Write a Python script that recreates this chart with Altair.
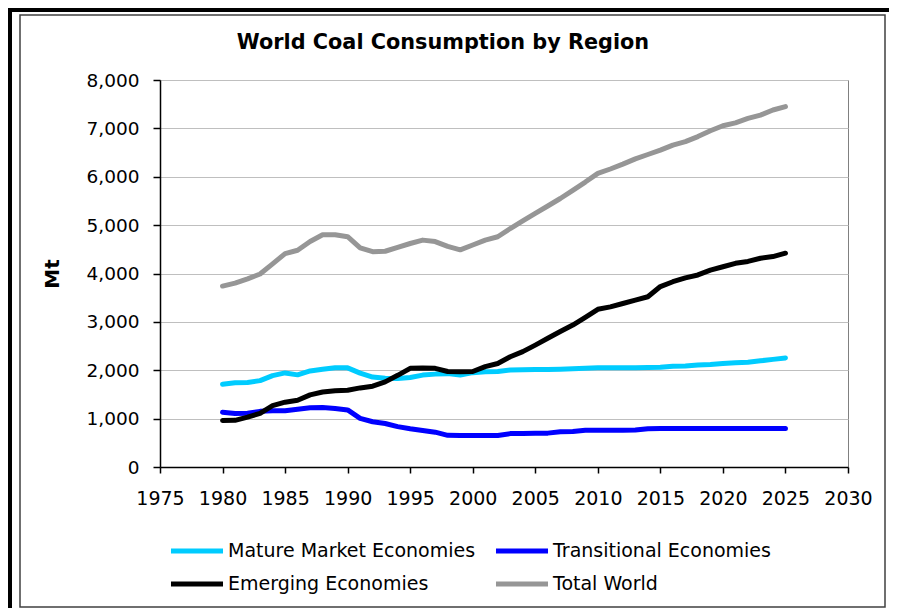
import altair as alt
import pandas as pd

years = list(range(1980, 2026))

mature = [1710, 1740, 1745, 1785, 1890, 1945, 1905, 1985, 2020, 2050,
          2050, 1940, 1860, 1835, 1830, 1850, 1900, 1920, 1930, 1900,
          1950, 1970, 1975, 2005, 2010, 2015, 2015, 2020, 2030, 2040,
          2050, 2050, 2050, 2050, 2055, 2060, 2085, 2090, 2110, 2120,
          2140, 2155, 2165, 2195, 2225, 2255]

transitional = [1130, 1105, 1110, 1150, 1165, 1165, 1195, 1225, 1230, 1210,
                1180, 1005, 935, 900, 835, 790, 755, 720, 655, 650,
                650, 650, 650, 690, 695, 700, 700, 730, 735, 760,
                760, 760, 760, 765, 790, 795, 795, 795, 795, 795,
                795, 795, 795, 795, 795, 795]

emerging = [960, 965, 1030, 1110, 1270, 1340, 1380, 1490, 1550, 1575,
            1585, 1635, 1670, 1760, 1895, 2040, 2045, 2040, 1975, 1970,
            1975, 2075, 2140, 2280, 2385, 2520, 2660, 2800, 2935, 3095,
            3260, 3310, 3380, 3450, 3520, 3730, 3830, 3910, 3970, 4070,
            4140, 4210, 4250, 4315, 4350, 4420]

total = [3740, 3800, 3890, 3990, 4200, 4410, 4480, 4660, 4800, 4800,
         4760, 4530, 4450, 4460, 4540, 4620, 4690, 4660, 4560, 4490,
         4590, 4690, 4760, 4930, 5090, 5245, 5395, 5550, 5720, 5890,
         6070, 6160, 6260, 6370, 6460, 6550, 6655, 6725, 6830, 6950,
         7055, 7115, 7205, 7275, 7380, 7450]

series_names = ["Mature Market Economies", "Transitional Economies",
                "Emerging Economies", "Total World"]
series_colors = ["#00CCFF", "#0000FF", "#000000", "#969696"]
series_widths = [5, 5, 5, 3]

x_ticks = list(range(1975, 2031, 5))
y_ticks = list(range(0, 8001, 1000))

rows = []
for name, vals in zip(series_names, [mature, transitional, emerging, total]):
    for yr, v in zip(years, vals):
        rows.append({"Year": yr, "Mt": v, "Series": name})
df = pd.DataFrame(rows)

FONT = "DejaVu Sans"

lines = alt.Chart(df).mark_line(strokeCap="round", strokeJoin="round").encode(
    x=alt.X("Year:Q",
            scale=alt.Scale(domain=[1975, 2030], nice=False, zero=False),
            axis=alt.Axis(values=x_ticks, format="d", title=None, grid=False,
                          tickSize=6, labelPadding=16, labelFlush=False,
                          labelOverlap=False, labelFont=FONT,
                          labelFontSize=19, labelColor="black")),
    y=alt.Y("Mt:Q",
            scale=alt.Scale(domain=[0, 8000], nice=False),
            axis=alt.Axis(values=y_ticks, format=",.0f", title="Mt",
                          tickSize=7, labelPadding=14, labelFont=FONT,
                          labelFontSize=18.5, labelColor="black",
                          titleX=-108, titleY=193.5, titleAngle=270,
                          titleAlign="center", titleBaseline="middle",
                          titleFontSize=20, titleFontWeight="bold",
                          titleFont=FONT, titleColor="black")),
    color=alt.Color("Series:N",
                    scale=alt.Scale(domain=series_names, range=series_colors),
                    legend=alt.Legend(title=None, orient="none", legendX=24,
                                      legendY=458, columns=2,
                                      direction="horizontal",
                                      symbolType="M-2.5,0H2.5",
                                      symbolSize=433,
                                      symbolStrokeWidth=5,
                                      labelFontSize=19, labelFont=FONT,
                                      labelColor="black", labelLimit=0,
                                      columnPadding=9,
                                      rowPadding=10, padding=0,
                                      labelOffset=18)),
    strokeWidth=alt.StrokeWidth("Series:N",
                                scale=alt.Scale(domain=series_names,
                                                range=series_widths),
                                legend=None),
)

dummy = pd.DataFrame({"k": [0]})
top_bar = alt.Chart(dummy).mark_rect(color="black").encode(
    x=alt.value(-152), x2=alt.value(729), y=alt.value(-72), y2=alt.value(-68))
left_bar = alt.Chart(dummy).mark_rect(color="black").encode(
    x=alt.value(-152), x2=alt.value(-148), y=alt.value(-72), y2=alt.value(528))
inner_frame = alt.Chart(dummy).mark_rect(
    filled=False, stroke="#404040", strokeWidth=1.5).encode(
    x=alt.value(-140), x2=alt.value(725), y=alt.value(-65), y2=alt.value(527))

chart = alt.layer(top_bar, left_bar, inner_frame, lines).properties(
    width=688, height=387,
    autosize=alt.AutoSizeParams(type="none"),
    padding={"left": 152, "top": 72, "right": 41, "bottom": 141},
    title=alt.TitleParams("World Coal Consumption by Region", font=FONT,
                          fontSize=20.8, fontWeight="bold", anchor="middle",
                          frame="group", dx=-61, dy=46, offset=0,
                          color="black"),
).configure_view(
    stroke="#808080", strokeWidth=1
).configure_axis(
    labelFont=FONT, labelFontSize=18.5, labelColor="black",
    tickColor="black", tickWidth=1.5, domainColor="black", domainWidth=1.5,
    gridColor="#BFBFBF", gridWidth=1
)

chart.save("out.html", embed_options={"renderer": "svg", "actions": False})
